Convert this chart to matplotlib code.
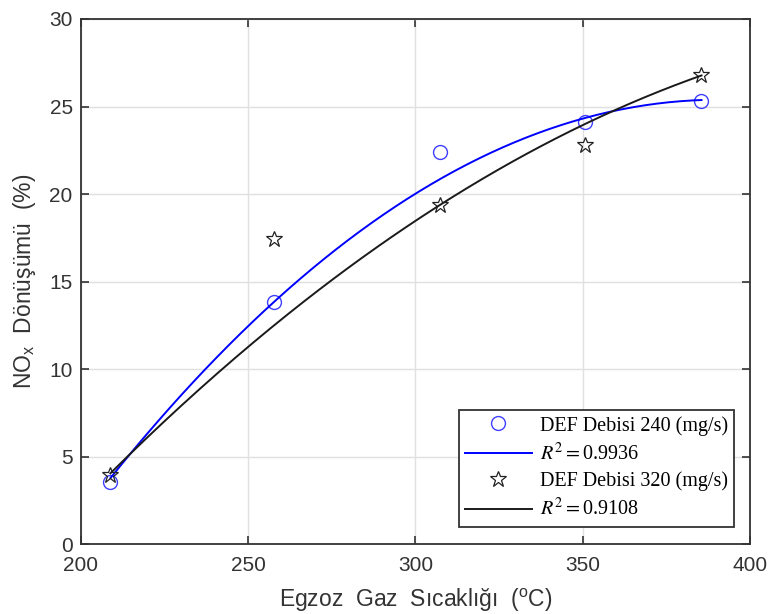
import matplotlib
matplotlib.use('Agg')
import numpy as np
import matplotlib.pyplot as plt

# Veriler (ölçüm noktaları)
sicaklik = [208.8, 257.8, 307.4, 350.8, 385.5]
nox_240 = [3.55, 13.85, 22.4, 24.1, 25.3]
nox_320 = [3.95, 17.45, 19.4, 22.8, 26.8]

# Eğri uydurma çizgilerinin aynı sıcaklıklarda okunan değerleri
egri_240 = [3.8, 13.85, 20.85, 24.4, 25.35]
egri_320 = [4.05, 12.55, 19.4, 23.97, 26.8]
r2_etiket = ["0.9936", "0.9108"]

plt.rcParams['font.family'] = ['Liberation Sans', 'DejaVu Sans']
plt.rcParams['mathtext.fontset'] = 'stix'

fig = plt.figure(figsize=(7.72, 6.14), dpi=100)
ax = fig.add_axes([0.1049, 0.1132, 0.8666, 0.8559])

x = np.array(sicaklik)
xs = np.linspace(x.min(), x.max(), 200)
p1 = np.polyfit(x, egri_240, 2)
p2 = np.polyfit(x, egri_320, 2)

ax.plot(x, nox_240, 'o', mfc='none', mec='#3f3fff', ms=10, mew=1.0,
        label='DEF Debisi 240 (mg/s)')
ax.plot(xs, np.polyval(p1, xs), color='#0000ff', lw=1.4,
        label='$R^2 = $' + r2_etiket[0])
ax.plot(x, nox_320, '*', mfc='none', mec='#222222', ms=12, mew=0.9,
        label='DEF Debisi 320 (mg/s)')
ax.plot(xs, np.polyval(p2, xs), color='#1a1a1a', lw=1.4,
        label='$R^2 = $' + r2_etiket[1])

ax.set_xlim(200, 400)
ax.set_ylim(0, 30)
ax.set_xticks([200, 250, 300, 350, 400])
ax.set_yticks([0, 5, 10, 15, 20, 25, 30])
ax.grid(True, color='#e0e0e0', lw=1.0)
ax.tick_params(direction='in', top=True, right=True, labelsize=15,
               colors='#333333', length=6, width=1.2)
ax.tick_params(axis='x', pad=8)
ax.tick_params(axis='y', pad=6)
for s in ax.spines.values():
    s.set_color('#333333')
    s.set_linewidth(1.3)

ax.set_xlabel('Egzoz  Gaz  Sıcaklığı  ($\\mathregular{^o}$C)', fontsize=16.5,
              color='#333333', labelpad=9)
ax.set_ylabel('NO$\\mathregular{_x}$  Dönüşümü  (%)', fontsize=16.5,
              color='#333333', labelpad=8)

leg = ax.legend(loc='lower right', bbox_to_anchor=(0.976, 0.034),
                prop={'family': 'Liberation Serif', 'size': 14.5},
                fancybox=False, edgecolor='#333333', framealpha=1,
                borderpad=0.3, labelspacing=0.35, handlelength=3.3,
                handletextpad=0.4, borderaxespad=0)
leg.get_frame().set_linewidth(1.3)

fig.savefig('out.png', dpi=100)
